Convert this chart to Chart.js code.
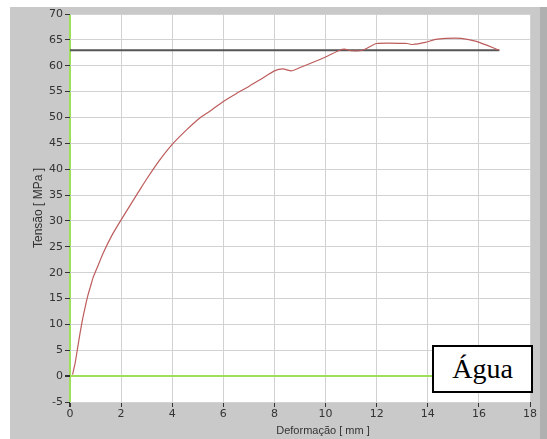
<!DOCTYPE html>
<html>
<head>
<meta charset="utf-8">
<script src="https://cdn.jsdelivr.net/npm/chart.js@4/dist/chart.umd.min.js"></script>
<style>
  html, body { margin: 0; padding: 0; background: #fff; }
  #wrap { position: relative; width: 547px; height: 439px; }
  #legendBox {
    position: absolute; left: 432px; top: 345px; width: 97px; height: 44px;
    border: 2px solid #000; background: #fff;
    font-family: "Liberation Serif", serif; font-size: 28px; color: #000;
    display: flex; align-items: center; justify-content: center;
  }
</style>
</head>
<body>
<div id="wrap">
  <canvas id="chart" width="547" height="439"></canvas>
  <div id="legendBox">Água</div>
</div>
<script>
// Curve: deformation (mm) vs stress (MPa)
const deformacao = [0.1, 0.2, 0.3, 0.4, 0.5, 0.6, 0.7, 0.8, 0.9, 1.05, 1.3, 1.65, 2.0, 2.4, 2.73, 3.0, 3.5, 4.0, 4.56, 5.08, 5.5, 6.0, 6.5, 7.0, 7.5, 8.0, 8.33, 8.66, 8.98, 10.0, 10.55, 10.74, 11.0, 11.45, 12.0, 13.2, 13.4, 13.9, 14.3, 14.7, 15.3, 15.9, 16.8];
const tensao =     [0.3, 2.5, 5.5, 8.5, 11.2, 13.5, 15.6, 17.3, 19.0, 20.8, 23.8, 27.3, 30.2, 33.4, 36.0, 38.1, 41.7, 44.8, 47.6, 49.9, 51.3, 53.1, 54.6, 56.0, 57.5, 59.0, 59.4, 59.0, 59.6, 61.7, 63.0, 63.2, 62.9, 63.0, 64.3, 64.3, 64.1, 64.5, 65.1, 65.3, 65.3, 64.7, 63.0];

// Horizontal reference line
const refX = [0, 16.8];
const refY = [63, 63];

const xTicks = [0, 2, 4, 6, 8, 10, 12, 14, 16, 18];
const yTicks = [-5, 0, 5, 10, 15, 20, 25, 30, 35, 40, 45, 50, 55, 60, 65, 70];

const xTitle = 'Deformação [ mm ]';
const yTitle = 'Tensão [ MPa ]';

const curvePts = deformacao.map((x, i) => ({ x: x, y: tensao[i] }));
const refPts = refX.map((x, i) => ({ x: x, y: refY[i] }));

const bgPlugin = {
  id: 'bg',
  beforeDraw(chart) {
    const c = chart.ctx, a = chart.chartArea;
    c.save();
    c.fillStyle = '#fff';
    c.fillRect(0, 0, chart.width, chart.height);
    c.fillStyle = '#c9c9c9';
    c.fillRect(10, 7, chart.width - 10, chart.height - 7);
    c.fillStyle = '#b0b0b0';
    c.fillRect(540, 7, chart.width - 540, chart.height - 7);
    c.fillStyle = '#fff';
    c.fillRect(a.left, a.top, a.right - a.left, a.bottom - a.top);
    c.restore();
  },
  afterDraw(chart) {
    // x axis title sits right of centre, like the original software
    const c = chart.ctx;
    c.save();
    c.fillStyle = '#333';
    c.font = '11px "Liberation Sans"';
    c.textAlign = 'center';
    c.textBaseline = 'middle';
    c.fillText(xTitle, 323, 431);
    c.restore();
  }
};

const gridColor = ctx => ctx.tick && ctx.tick.value === 0 ? '#9ee05a' : '#d2d2d2';
const gridWidth = ctx => ctx.tick && ctx.tick.value === 0 ? 2 : 1;

new Chart(document.getElementById('chart'), {
  type: 'scatter',
  data: {
    datasets: [
      {
        data: refPts, showLine: true, borderColor: '#555', borderWidth: 2,
        pointRadius: 0, order: 2
      },
      {
        data: curvePts, showLine: true, borderColor: '#bd5c5c', borderWidth: 1.2,
        pointRadius: 0, tension: 0.2, order: 1
      }
    ]
  },
  options: {
    responsive: false,
    animation: false,
    layout: { padding: { left: 10, right: 17, top: 14, bottom: 0 } },
    plugins: { legend: { display: false }, tooltip: { enabled: false } },
    scales: {
      x: {
        type: 'linear', min: 0, max: 18,
        afterBuildTicks: s => { s.ticks = xTicks.map(v => ({ value: v })); },
        afterFit: s => { s.height = 37; },
        grid: { color: gridColor, lineWidth: gridWidth, tickColor: '#333', tickLength: 5 },
        border: { display: false },
        ticks: { color: '#333', font: { family: 'DejaVu Sans', size: 11 }, padding: 1, maxRotation: 0 }
      },
      y: {
        type: 'linear', min: -5, max: 70,
        afterBuildTicks: s => { s.ticks = yTicks.map(v => ({ value: v })); },
        afterFit: s => { s.width = 60; },
        grid: { color: gridColor, lineWidth: gridWidth, tickColor: '#333', tickLength: 5 },
        border: { display: false },
        ticks: { color: '#333', font: { family: 'DejaVu Sans', size: 11 }, padding: 2 },
        title: { display: true, text: yTitle, color: '#333',
                 font: { family: 'Liberation Sans', size: 12 }, padding: { top: 21, bottom: 0 } }
      }
    }
  },
  plugins: [bgPlugin]
});
</script>
</body>
</html>
